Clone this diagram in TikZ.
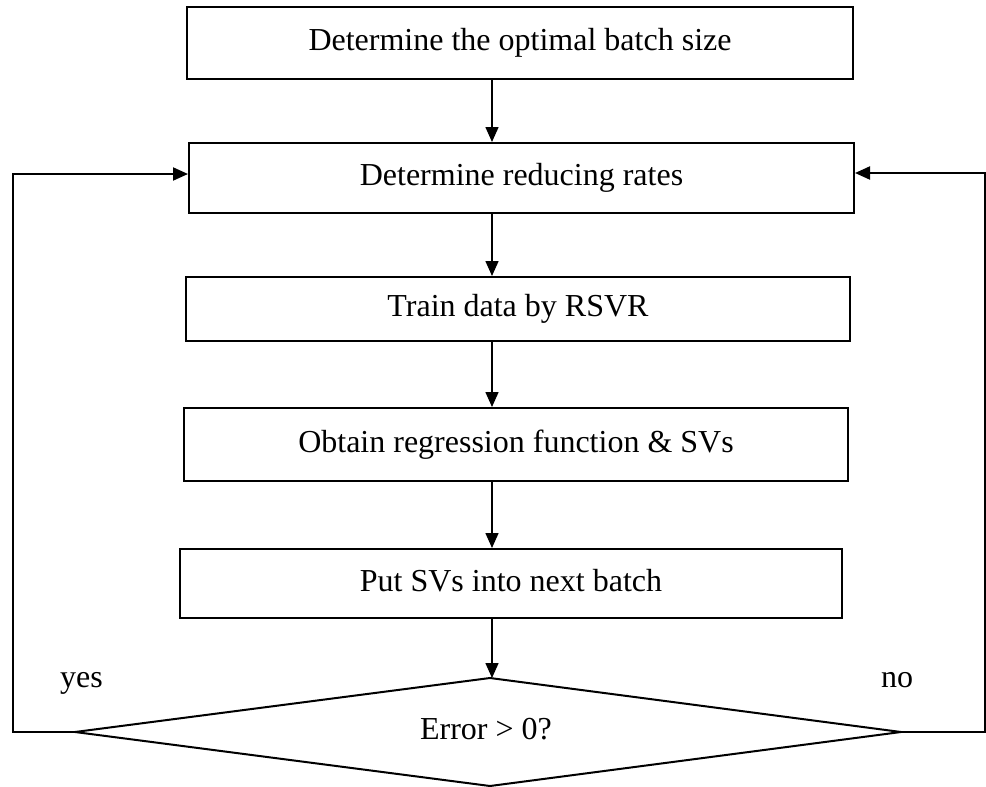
\documentclass[tikz,border=0pt]{standalone}
\usepackage{fontspec}
\setmainfont{Liberation Serif}
\usetikzlibrary{arrows.meta}
\begin{document}
\begin{tikzpicture}[x=1pt,y=-1pt,
  txt/.style={font=\fontsize{32}{38}\selectfont,text height=22pt,text depth=7pt},
  stepbox/.style={txt,draw,line width=2pt,inner sep=0pt},
  flow/.style={line width=1.5pt,-{Triangle[length=15pt,width=13pt]}},
  loopline/.style={line width=2pt,-{Triangle[length=15pt,width=13pt]}},
  lbl/.style={font=\fontsize{32}{38}\selectfont,inner sep=0pt,anchor=base west}]
\useasboundingbox (0,0) rectangle (986,787);

% process steps
\node[stepbox,minimum width=666pt,minimum height=72pt] (b1) at (520,43) {Determine the optimal batch size};
\node[stepbox,minimum width=665pt,minimum height=70pt] (b2) at (521.5,178) {Determine reducing rates};
\node[stepbox,minimum width=664pt,minimum height=64pt] (b3) at (518,309) {Train data by RSVR};
\node[stepbox,minimum width=664pt,minimum height=73pt] (b4) at (516,444.5) {Obtain regression function \& SVs};
\node[stepbox,minimum width=662pt,minimum height=69pt] (b5) at (511,583.5) {Put SVs into next batch};

% decision
\coordinate (dt) at (490,678);
\coordinate (dr) at (901,732);
\coordinate (db) at (490,786);
\coordinate (dl) at (75,732);
\draw[line width=2pt,line join=miter] (dt) -- (dr) -- (db) -- (dl) -- cycle;
\node[txt,inner sep=0pt] (err) at (486,732) {Error > 0?};

% main flow column
\coordinate (ax) at (492,0);
\draw[flow] (b1.south -| ax) -- (b2.north -| ax);
\draw[flow] (b2.south -| ax) -- (b3.north -| ax);
\draw[flow] (b3.south -| ax) -- (b4.north -| ax);
\draw[flow] (b4.south -| ax) -- (b5.north -| ax);
\draw[flow] (b5.south -| ax) -- (dt -| ax);

% feedback loops
\coordinate (lcorner) at (12.5,732);
\coordinate (rcorner) at (985,732);
\draw[loopline] (dl) -- (lcorner) |- ([yshift=4pt]b2.west);
\draw[loopline] (dr) -- (rcorner) |- ([yshift=5pt]b2.east);

\node[lbl] (yes) at (60,687) {yes};
\node[lbl] (no) at (881,687) {no};
\end{tikzpicture}
\end{document}
